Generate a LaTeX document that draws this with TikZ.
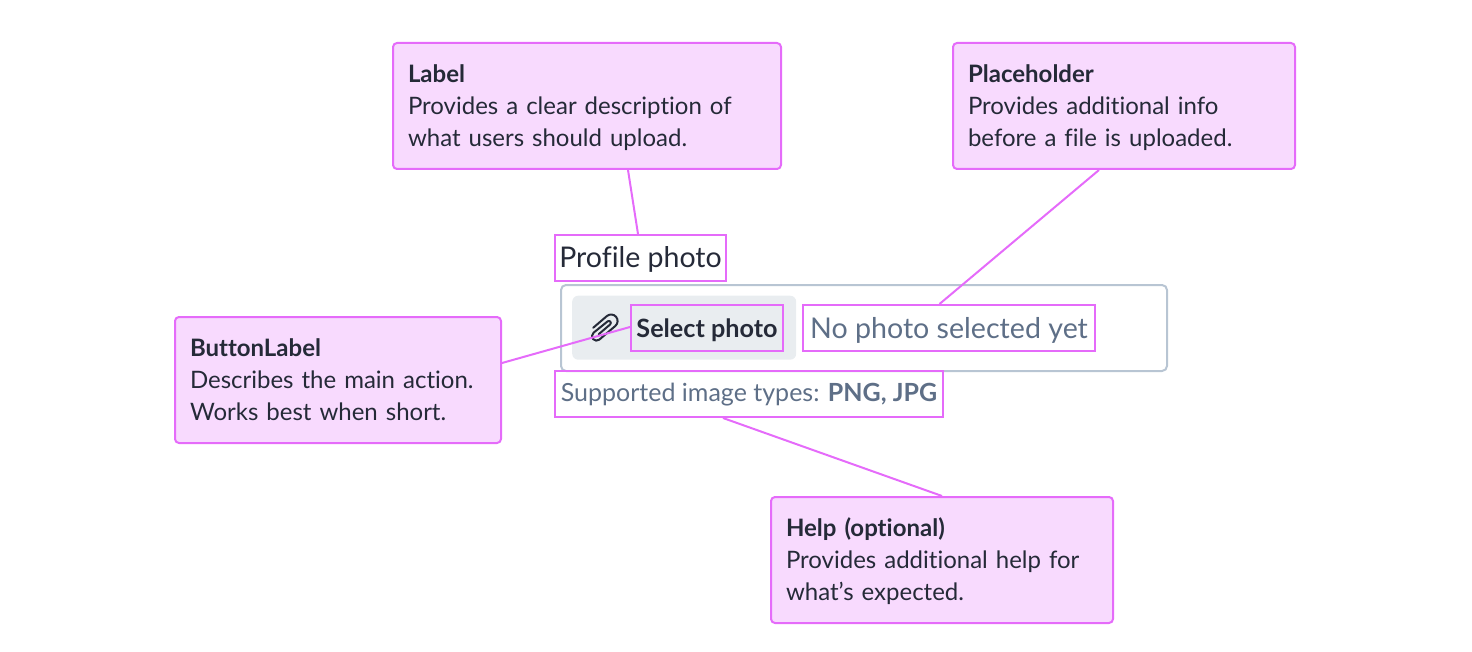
\documentclass[tikz,border=0pt]{standalone}
\usepackage{fontspec}
\setmainfont[Ligatures=NoCommon]{Lato}
\definecolor{pinkline}{HTML}{E56BFA}
\definecolor{pinkfill}{HTML}{F8DAFE}
\definecolor{ink}{HTML}{252A38}
\definecolor{slate}{HTML}{5E6F87}
\definecolor{fieldline}{HTML}{B8C5D3}
\definecolor{btnfill}{HTML}{E9EDF0}
\newcommand\calltitle[1]{\rule{0pt}{22pt}\textbf{#1}}
\tikzset{
  callout/.style={draw=pinkline,fill=pinkfill,line width=2pt,rounded corners=4pt,anchor=north west,
    inner xsep=15pt,inner ysep=0pt,minimum height=126pt,align=left,text=ink,
    font=\fontsize{24}{32}\selectfont},
  partbox/.style={draw=pinkline,line width=2pt,anchor=north west,inner sep=0pt,minimum height=46pt},
  conn/.style={draw=pinkline,line width=2pt},
}
\begin{document}
\begin{tikzpicture}[x=1pt,y=-1pt]
\useasboundingbox (1,1) rectangle (1473,653);
% field
\node[draw=fieldline,line width=2pt,rounded corners=5pt,anchor=north west,minimum width=606pt,minimum height=86pt,inner sep=0pt] (field) at (561,285) {};
\node[fill=btnfill,rounded corners=6pt,anchor=north west,minimum width=224pt,minimum height=64pt,inner sep=0pt] (button) at (573,296.5) {};
% paperclip icon
\begin{scope}[shift={(604.5,328.5)},x={(0.76pt,0.65pt)},y={(0.65pt,-0.76pt)},draw=ink,line width=2pt,line cap=round,line join=round]
\draw (-8,-6.5) -- (10,-6.5) arc (-90:90:6.5) -- (-11,6.5) arc (90:270:4.5) -- (7,-2) arc (-90:90:2) -- (-8,2);
\end{scope}
% parts
\node[partbox,minimum width=171pt,text=ink,text height=19.5pt,text depth=0pt,font=\fontsize{28.5}{34}\selectfont] (profile) at (555,235) {Profile photo};
\node[partbox,minimum width=152pt,text=ink,text height=19.5pt,text depth=0pt,font=\fontsize{25.2}{30}\selectfont\bfseries] (select) at (631,305) {Select photo};
\node[partbox,minimum width=292pt,text=slate,text height=20pt,text depth=0pt,font=\fontsize{28.6}{34}\selectfont] (nophoto) at (803,305) {No photo selected yet};
\node[partbox,minimum width=388pt,text=slate,text height=14pt,text depth=0pt,font=\fontsize{25}{30}\selectfont] (support) at (555,371) {Supported image types: \textbf{PNG, JPG}};
% callouts
\node[callout,text width=358pt] (label) at (393,43) {\calltitle{Label}\\Provides a clear description of\\what users should upload.};
\node[callout,text width=312pt] (placeholder) at (953,43) {\calltitle{Placeholder}\\Provides additional info\\before a file is uploaded.};
\node[callout,text width=296pt] (btnlabel) at (175,317) {\calltitle{ButtonLabel}\\Describes the main action.\\Works best when short.\rule[-5pt]{0pt}{5pt}};
\node[callout,text width=312pt] (help) at (771,497) {\calltitle{Help (optional)}\\Provides additional help for\\what’s expected.};
% connectors
\draw[conn] ([xshift=236pt]label.south west) -- ([xshift=84pt]profile.north west);
\draw[conn] ([xshift=147pt]placeholder.south west) -- ([xshift=137.5pt]nophoto.north west);
\draw[conn] ([yshift=17pt]btnlabel.east) -- ([yshift=1pt]select.west);
\draw[conn] ([xshift=169pt]support.south west) -- ([xshift=172pt]help.north west);
\end{tikzpicture}
\end{document}
